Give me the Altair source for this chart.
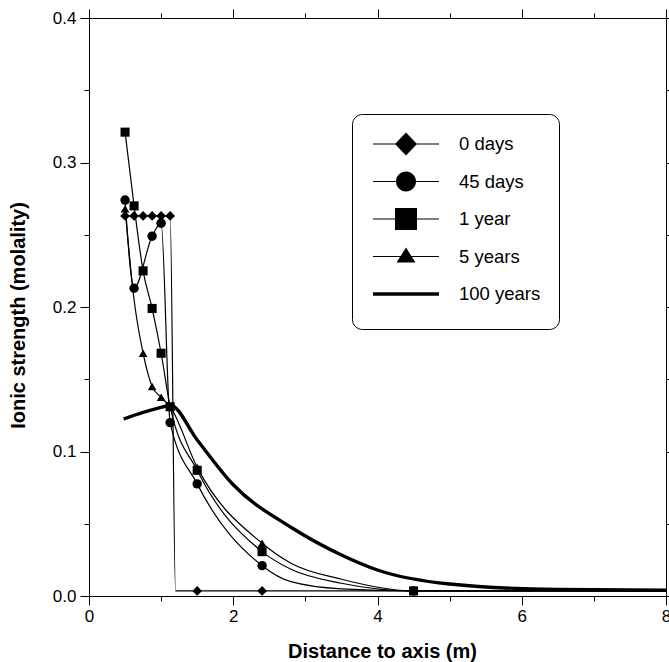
import altair as alt
import pandas as pd

series_names = ["0 days", "45 days", "1 year", "5 years", "100 years"]

# 0 days (diamonds)
d0_x = [0.5, 0.625, 0.75, 0.875, 1.0, 1.125, 1.2, 1.5, 2.4, 4.5, 8.0]
d0_y = [0.263, 0.263, 0.263, 0.263, 0.263, 0.263, 0.0035, 0.0035, 0.0035, 0.0035, 0.0035]
d0_m = [1, 1, 1, 1, 1, 1, 0, 1, 1, 0, 0]

# 45 days (circles)
d45_x = [0.5, 0.625, 0.875, 1.0, 1.125, 1.5, 2.4, 2.8, 3.5, 4.5, 8.0]
d45_y = [0.274, 0.213, 0.249, 0.258, 0.120, 0.0776, 0.021, 0.0099, 0.0049, 0.0035, 0.0035]
d45_m = [1, 1, 1, 1, 1, 1, 1, 0, 0, 1, 0]

# 1 year (squares)
y1_x = [0.5, 0.625, 0.75, 0.875, 1.0, 1.125, 1.5, 2.4, 2.8, 3.5, 4.5, 8.0]
y1_y = [0.321, 0.270, 0.225, 0.199, 0.168, 0.131, 0.087, 0.0307, 0.0185, 0.0088, 0.0035, 0.0035]
y1_m = [1, 1, 1, 1, 1, 1, 1, 1, 0, 0, 1, 0]

# 5 years (triangles)
y5_x = [0.5, 0.625, 0.75, 0.875, 1.0, 1.125, 1.5, 2.4, 2.8, 3.5, 4.5, 8.0]
y5_y = [0.268, 0.205, 0.168, 0.145, 0.1375, 0.131, 0.089, 0.0365, 0.0227, 0.0116, 0.0035, 0.0035]
y5_m = [1, 0, 1, 1, 1, 1, 1, 1, 0, 0, 1, 0]

# 100 years (thick line)
y100_x = [0.48, 0.75, 1.0, 1.125, 1.5, 2.0, 2.8, 3.5, 4.0, 5.0, 6.5, 8.0]
y100_y = [0.1225, 0.127, 0.1305, 0.132, 0.108, 0.077, 0.0476, 0.0284, 0.018, 0.0083, 0.0045, 0.004]

x_major = [0, 2, 4, 6, 8]
x_minor = [1, 3, 5, 7]
y_major = [0.0, 0.1, 0.2, 0.3, 0.4]
y_minor = [0.05, 0.15, 0.25, 0.35]

marker_shapes = ["diamond", "circle", "square", "triangle-up"]
marker_sizes = [95, 76, 95, 85]
draw_order = {"0 days": 0, "45 days": 1, "5 years": 2, "1 year": 3}

# legend symbols: thin line (filled strip) with the marker in its middle
bar = "M-3,-0.055H3V0.055H-3Z"
legend_paths = [
    "M0,-1.2M0,1.2" + bar + "M-1,0L0,-1.05L1,0L0,1.05Z",
    "M0,-1.2M0,1.2" + bar + "M-0.91,0A0.91,0.91,0,1,1,0.91,0A0.91,0.91,0,1,1,-0.91,0Z",
    "M0,-1.2M0,1.2" + bar + "M-1,-1H1V1H-1Z",
    "M0,-1.2M0,1.2" + bar + "M0,-0.82L0.86,0.55L-0.86,0.55Z",
    "M0,-1.2M0,1.2M-3,-0.15H3V0.15H-3Z",
]

rows = []
for name, xs, ys, ms in [("0 days", d0_x, d0_y, d0_m), ("45 days", d45_x, d45_y, d45_m),
                         ("1 year", y1_x, y1_y, y1_m), ("5 years", y5_x, y5_y, y5_m)]:
    for x, y, m in zip(xs, ys, ms):
        rows.append({"series": name, "x": x, "y": y, "m": m, "ord": draw_order[name]})
thin = pd.DataFrame(rows)
thick = pd.DataFrame({"series": "100 years", "x": y100_x, "y": y100_y})
pts = thin[thin["m"] == 1].sort_values("ord")

x_scale = alt.Scale(domain=[0, 8], nice=False, zero=False)
y_scale = alt.Scale(domain=[0, 0.4], nice=False, zero=False)

common = dict(grid=False, domainColor="black", tickColor="black", labelColor="black",
              domainWidth=1, tickWidth=1, labelFlush=False, labelOverlap=False)

ax_x_major = alt.Axis(orient="bottom", values=x_major, format="d", tickSize=9, labelFontSize=17,
                      labelPadding=3, title="Distance to axis (m)", titleFontSize=20,
                      titleFontWeight="bold", titleColor="black", titlePadding=17,
                      titleX=293, **common)
ax_x_minor = alt.Axis(orient="bottom", values=x_minor, tickSize=5, labels=False, **common)
ax_x_top = alt.Axis(orient="top", values=x_major, tickSize=9, labels=False, **common)
ax_x_top_minor = alt.Axis(orient="top", values=x_minor, tickSize=5, labels=False, **common)

ax_y_major = alt.Axis(orient="left", values=y_major, format=".1f", tickSize=9, labelFontSize=17,
                      labelPadding=4, title="Ionic strength (molality)", titleFontSize=20,
                      titleFontWeight="bold", titleColor="black", titlePadding=24,
                      titleY=297, **common)
ax_y_minor = alt.Axis(orient="left", values=y_minor, tickSize=5, labels=False, **common)
ax_y_right = alt.Axis(orient="right", values=y_major, tickSize=9, labels=False, **common)
ax_y_right_minor = alt.Axis(orient="right", values=y_minor, tickSize=5, labels=False, **common)

lines_thin = alt.Chart(thin).mark_line(color="black", strokeWidth=1.2, interpolate="monotone").encode(
    x=alt.X("x:Q", scale=x_scale, axis=ax_x_major),
    y=alt.Y("y:Q", scale=y_scale, axis=ax_y_major),
    detail="series:N",
)

line_thick = alt.Chart(thick).mark_line(color="black", strokeWidth=3.4, interpolate="monotone").encode(
    x=alt.X("x:Q", scale=x_scale, axis=ax_x_minor, title=None),
    y=alt.Y("y:Q", scale=y_scale, axis=ax_y_minor, title=None),
)

points = alt.Chart(pts).mark_point(filled=True, color="black", opacity=1, strokeWidth=0).encode(
    x=alt.X("x:Q", scale=x_scale, axis=ax_x_top, title=None),
    y=alt.Y("y:Q", scale=y_scale, axis=ax_y_right, title=None),
    shape=alt.Shape("series:N", scale=alt.Scale(domain=series_names[:4], range=marker_shapes), legend=None),
    size=alt.Size("series:N", scale=alt.Scale(domain=series_names[:4], range=marker_sizes), legend=None),
    order=alt.Order("ord:Q"),
)

legend_layer = alt.Chart(thin).transform_filter("false").mark_point(
    filled=True, color="black", opacity=1, size=484
).encode(
    x=alt.X("x:Q", scale=x_scale, axis=ax_x_top_minor, title=None),
    y=alt.Y("y:Q", scale=y_scale, axis=ax_y_right_minor, title=None),
    shape=alt.Shape("series:N", scale=alt.Scale(domain=series_names, range=legend_paths),
                    legend=alt.Legend(title=None, orient="none", legendX=263, legendY=96,
                                      symbolSize=484, symbolFillColor="black",
                                      symbolOpacity=1, symbolOffset=24,
                                      labelFontSize=18.5, labelColor="black",
                                      labelOffset=41, rowPadding=3.5, padding=18,
                                      cornerRadius=10, strokeColor="black",
                                      fillColor="white")),
)

chart = alt.layer(lines_thin, line_thick, points, legend_layer).resolve_scale(
    shape="independent", size="independent"
).resolve_axis(x="independent", y="independent").properties(
    width=577, height=578,
    autosize=alt.AutoSizeParams(type="none"),
    padding={"left": 89, "top": 18, "right": 3, "bottom": 66},
    background="white",
).configure(font="Liberation Sans").configure_view(stroke="black", strokeWidth=1)

chart.save("out.html", embed_options={"renderer": "svg", "actions": False})
